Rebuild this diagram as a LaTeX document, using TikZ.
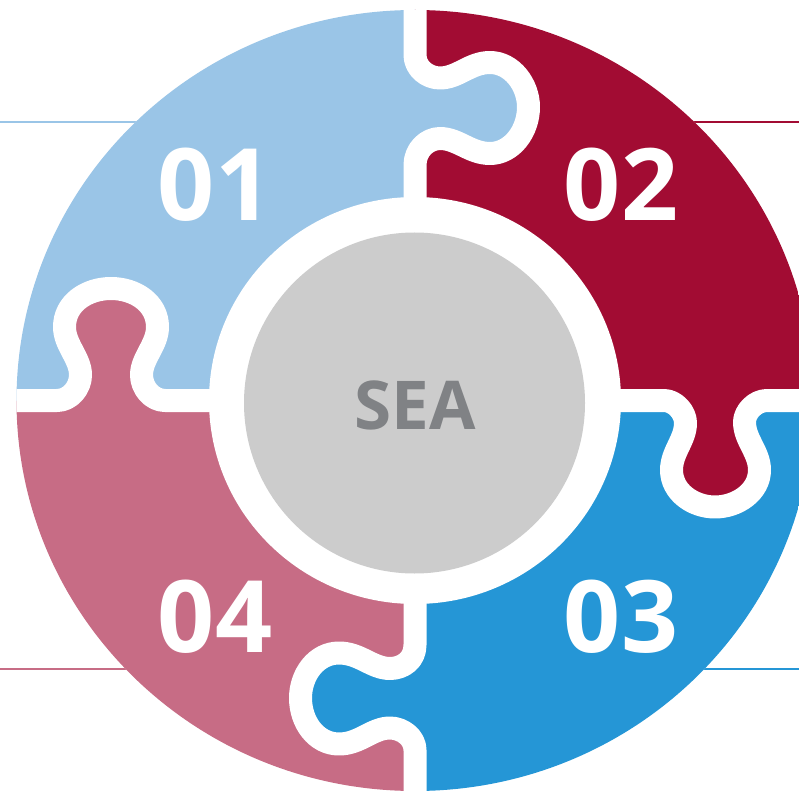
\documentclass[tikz,border=0pt]{standalone}
\usepackage{fontspec}
\setmainfont{Open Sans}
\definecolor{cA}{HTML}{9AC5E7}
\definecolor{cB}{HTML}{A20C33}
\definecolor{cC}{HTML}{2596D6}
\definecolor{cD}{HTML}{C76C85}
\definecolor{cG}{HTML}{CCCCCC}
\definecolor{cT}{HTML}{808285}
\tikzset{
  leader/.style={line width=1.5pt},
  gapline/.style={draw=white,line width=17.25pt,line join=round},
  numlabel/.style={text=white,font=\fontsize{75}{75}\selectfont\bfseries,inner sep=0pt},
}
\def\pathTop{(415,-10) -- (415,55) .. controls (415,68) and (427,78) .. (440,78) .. controls (458,78) and (470,62.5) .. (490,62.5) .. controls (512,62.5) and (528.5,85) .. (528.5,107) .. controls (528.5,131) and (512,153.5) .. (490,153.5) .. controls (470,153.5) and (458,138.5) .. (440,138.5) .. controls (427,138.5) and (415,150) .. (415,165) -- (415,210)}
\def\pathLeft{(5,400.5) -- (57,400.5) .. controls (70,400.5) and (80.5,388) .. (80.5,375) .. controls (80.5,358) and (64.5,345) .. (64.5,327) .. controls (64.5,303) and (87,288.5) .. (111,288.5) .. controls (135,288.5) and (157.5,303) .. (157.5,327) .. controls (157.5,345) and (141.5,358) .. (141.5,375) .. controls (141.5,388) and (152,400.5) .. (165,400.5) -- (220,400.5)}
\def\pathRight{(610,400.5) -- (664,400.5) .. controls (675,400.5) and (685.5,412) .. (685.5,423) .. controls (685.5,440) and (671.5,452) .. (671.5,470) .. controls (671.5,492) and (693,507) .. (715,507) .. controls (737,507) and (759.5,492) .. (759.5,470) .. controls (759.5,452) and (744.5,440) .. (744.5,422) .. controls (744.5,412) and (755,400.5) .. (767,400.5) -- (810,400.5)}
\def\pathBottom{(415,590) -- (415,645) .. controls (415,660) and (403,668.5) .. (390,668.5) .. controls (372,668.5) and (360,653) .. (339,653) .. controls (316,653) and (300.5,675) .. (300.5,698) .. controls (300.5,722) and (316,744) .. (339,744) .. controls (360,744) and (372,728) .. (390,728) .. controls (403,728) and (415,738) .. (415,750) -- (415,800)}
\begin{document}
\begin{tikzpicture}[x=0.75pt,y=-0.75pt]
\useasboundingbox (0,0) rectangle (799,791);
\clip (0,0) rectangle (799,791);
% leader lines
\draw[leader,cA] (0,122) -- (200,122);
\draw[leader,cB] (640,122) -- (799,122);
\draw[leader,cD] (0,669) -- (200,669);
\draw[leader,cC] (640,669) -- (799,669);
% pie quadrants
\begin{scope}
  \clip (415,400.5) ellipse [x radius=398.5,y radius=390.5];
  \fill[white] (0,0) rectangle (799,791);
  \fill[cA] (0,0) rectangle (415,400.5);
  \fill[cB] (415,0) rectangle (799,400.5);
  \fill[cC] (415,400.5) rectangle (799,791);
  \fill[cD] (0,400.5) rectangle (415,791);
  % knobs, each with a patch over the seam at its base
  \fill[cA] \pathTop -- cycle;
  \fill[cA] (410,60) rectangle (420,160);
  \fill[cD] \pathLeft -- cycle;
  \fill[cD] (60,396) rectangle (160,405);
  \fill[cB] \pathRight -- cycle;
  \fill[cB] (670,396) rectangle (760,405);
  \fill[cC] \pathBottom -- cycle;
  \fill[cC] (410,650) rectangle (420,745);
  % white gaps
  \draw[gapline] \pathTop;
  \draw[gapline] \pathLeft;
  \draw[gapline] \pathRight;
  \draw[gapline] \pathBottom;
\end{scope}
% hub
\fill[white] (415,400.5) ellipse [x radius=206,y radius=203.5];
\fill[cG] (414.5,403) circle [radius=170.5];
\node[text=cT,font=\fontsize{50.5}{50.5}\selectfont\bfseries,inner sep=0pt] (sea) at (415,405) {SEA};
\node[numlabel] (n1) at (215,184.5) {01};
\node[numlabel] (n2) at (621,184.5) {02};
\node[numlabel] (n3) at (621,617) {03};
\node[numlabel] (n4) at (215,617) {04};
\end{tikzpicture}
\end{document}
